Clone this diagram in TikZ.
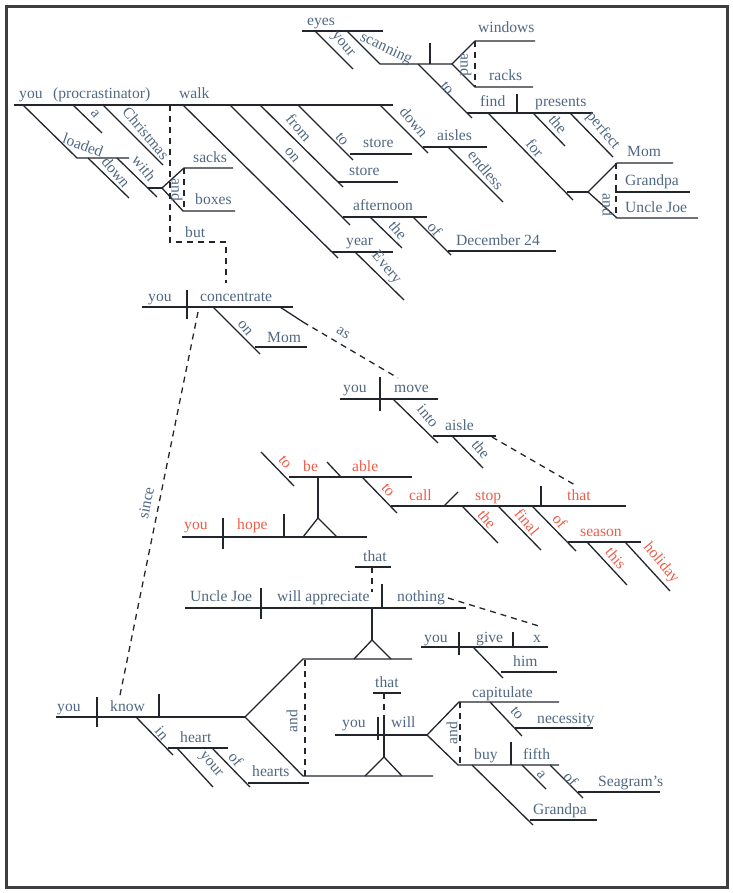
\documentclass[tikz,border=0pt]{standalone}
\usepackage{fontspec}
\setmainfont{Liberation Serif}
\definecolor{tb}{RGB}{80,104,130}
\definecolor{tr}{RGB}{238,92,72}
\definecolor{lnc}{RGB}{34,38,44}
\definecolor{frc}{RGB}{60,62,66}
\tikzset{
  wd/.style={text=tb, anchor=base west, inner sep=0pt, font=\fontsize{15.6}{18}\selectfont},
  rd/.style={wd, text=tr},
  dg/.style={text=tb, inner sep=0pt, font=\fontsize{15.6}{18}\selectfont, rotate=-50},
  rdg/.style={dg, text=tr},
  ln/.style={draw=lnc, line width=1.3pt},
  dsh/.style={ln, dash pattern=on 6pt off 5pt},
}
\begin{document}
\begin{tikzpicture}[x=1pt,y=-1pt]
\useasboundingbox (0,0) rectangle (732,893);
\draw[draw=frc, line width=3pt] (6,7) rectangle (727,887);

% ---------- main clause: you (procrastinator) walk
\draw[ln] (14,105) -- (393,105);
\node[wd] (you1) at (19,99) {you};
\node[wd] (procr) at (53,99) {(procrastinator)};
\node[wd] (walk) at (179,99) {walk};
\draw[ln] (23,105) -- (77,158) -- (129,158);
\node[text=tb, inner sep=0pt, font=\fontsize{15.6}{18}\selectfont, rotate=-20] (loaded) at (83,145) {loaded};
\draw[ln] (88,158) -- (129,198);
\node[dg] (down1) at (116,172) {down};
\draw[ln] (117,158) -- (157,197);
\node[dg] (with) at (144,168) {with};
\draw[ln] (148,188) -- (162,188);
\draw[ln] (233,168) -- (184,168) -- (162,188) -- (183,211) -- (235,211);
\draw[dsh] (184,168) -- (184,211);
\node[dg, rotate=-40] (and1) at (177,190) {and};
\node[wd] (sacks) at (193,163) {sacks};
\node[wd] (boxes) at (195,205) {boxes};
\draw[ln] (73,105) -- (102,133);
\node[dg] (a1) at (95,114) {a};
\draw[ln] (103,105) -- (163,165);
\node[dg] (christmas) at (146,133) {Christmas};
\draw[dsh] (170,105) -- (170,242) -- (226,242) -- (226,283);
\node[wd] (but) at (185,237) {but};

% walk modifiers
\draw[ln] (183,105) -- (338,258);
\draw[ln] (332,252) -- (393,252);
\node[wd] (year) at (346,245) {year};
\draw[ln] (355,252) -- (404,300);
\node[dg] (every) at (386,268) {Every};
\draw[ln] (230,105) -- (350,225);
\node[dg] (on1) at (292,155) {on};
\draw[ln] (343,217) -- (427,217);
\node[wd] (afternoon) at (353,211) {afternoon};
\draw[ln] (370,217) -- (402,248);
\node[dg] (the1) at (398,230) {the};
\draw[ln] (413,217) -- (451,255);
\node[dg] (of1) at (435,229) {of};
\draw[ln] (448,251) -- (556,251);
\node[wd] (dec) at (456,245) {December 24};
\draw[ln] (260,105) -- (343,187);
\node[dg] (from) at (299,128) {from};
\draw[ln] (338,182) -- (398,182);
\node[wd] (store1) at (349,176) {store};
\draw[ln] (298,105) -- (353,160);
\node[dg] (to1) at (342,139) {to};
\draw[ln] (350,154) -- (412,154);
\node[wd] (store2) at (363,148) {store};
\draw[ln] (380,105) -- (428,153);
\node[dg] (down2) at (414,122) {down};
\draw[ln] (423,147) -- (487,147);
\node[wd] (aisles) at (437,141) {aisles};
\draw[ln] (448,147) -- (503,202);
\node[dg] (endless) at (486,170) {endless};

% ---------- absolute phrase: your eyes scanning ...
\draw[ln] (302,31) -- (383,31);
\node[wd] (eyes) at (307,26) {eyes};
\draw[ln] (315,31) -- (353,69);
\node[dg] (your1) at (342,45) {your};
\draw[ln] (347,31) -- (380,64) -- (452,64);
\node[text=tb, inner sep=0pt, font=\fontsize{15.6}{18}\selectfont, rotate=-25] (scanning) at (386,49) {scanning};
\draw[ln] (430,43) -- (430,64);
\draw[ln] (535,41) -- (475,41) -- (452,64) -- (475,87) -- (533,87);
\draw[dsh] (475,41) -- (475,87);
\node[dg, rotate=-40] (and2) at (466,65) {and};
\node[wd] (windows) at (478,33) {windows};
\node[wd] (racks) at (489,81) {racks};
\draw[ln] (418,64) -- (472,118);
\node[dg] (to2) at (447,88) {to};
\draw[ln] (467,113) -- (593,113);
\draw[ln] (517,94) -- (517,113);
\node[wd] (find) at (480,107) {find};
\node[wd] (presents) at (535,107) {presents};
\draw[ln] (533,113) -- (565,146);
\node[dg] (the2) at (558,124) {the};
\draw[ln] (570,113) -- (613,157);
\node[dg] (perfect) at (603,131) {perfect};
\draw[ln] (488,113) -- (573,200);
\node[dg] (for) at (535,148) {for};
\draw[ln] (567,192) -- (588,192);
\draw[ln] (673,163) -- (617,163) -- (588,192) -- (617,218) -- (698,218);
\draw[ln] (615,192) -- (690,192);
\draw[dsh] (616,163) -- (616,218);
\node[dg, rotate=-40] (and3) at (608,205) {and};
\node[wd] (mom1) at (627,157) {Mom};
\node[wd] (grandpa1) at (625,186) {Grandpa};
\node[wd] (unclejoe1) at (625,213) {Uncle Joe};

% ---------- you concentrate
\draw[ln] (142,307) -- (293,307);
\draw[ln] (187,290) -- (187,319);
\node[wd] (you2) at (148,301) {you};
\node[wd] (concentrate) at (200,301) {concentrate};
\draw[ln] (213,307) -- (260,354);
\node[dg] (on2) at (245,328) {on};
\draw[ln] (255,347) -- (307,347);
\node[wd] (mom2) at (267,342) {Mom};
\draw[ln] (280,307) -- (303,322);
\draw[dsh] (303,322) -- (398,378);
\node[dg, rotate=19] (as) at (343,333) {as};

% ---------- you move
\draw[ln] (340,399) -- (438,399);
\draw[ln] (380,377) -- (380,411);
\node[wd] (you3) at (343,392) {you};
\node[wd] (move) at (394,392) {move};
\draw[ln] (393,399) -- (438,443);
\node[dg] (into) at (428,416) {into};
\draw[ln] (433,436) -- (496,436);
\node[wd] (aisle) at (445,430) {aisle};
\draw[ln] (452,436) -- (483,468);
\node[dg] (the3) at (481,449) {the};
\draw[dsh] (492,437) -- (575,485);

% ---------- red clause: you hope to be able to call stop ...
\draw[ln] (182,537) -- (367,537);
\draw[ln] (223,518) -- (223,549);
\draw[ln] (284,514) -- (284,537);
\node[rd] (you4) at (184,529) {you};
\node[rd] (hope) at (237,529) {hope};
\draw[ln] (303,537) -- (318,518) -- (337,537);
\draw[ln] (318,518) -- (318,477);
\draw[ln] (289,477) -- (412,477);
\draw[ln] (261,452) -- (294,486);
\node[rdg] (to3) at (285,462) {to};
\node[rd] (be) at (303,471) {be};
\draw[ln] (327,462) -- (341,477);
\node[rd] (able) at (352,471) {able};
\draw[ln] (362,477) -- (397,513);
\node[rdg] (to4) at (388,490) {to};
\draw[ln] (391,506) -- (626,506);
\draw[ln] (444,506) -- (458,492);
\node[rd] (call) at (409,500) {call};
\node[rd] (stop) at (475,500) {stop};
\draw[ln] (541,486) -- (541,506);
\node[rd] (that1) at (567,500) {that};
\draw[ln] (462,506) -- (498,543);
\node[rdg] (the4) at (487,519) {the};
\draw[ln] (498,506) -- (541,550);
\node[rdg] (final) at (527,522) {final};
\draw[ln] (532,506) -- (576,551);
\node[rdg] (of2) at (560,521) {of};
\draw[ln] (568,542) -- (641,542);
\node[rd] (season) at (580,536) {season};
\draw[ln] (587,542) -- (627,585);
\node[rdg] (this) at (616,558) {this};
\draw[ln] (625,542) -- (670,591);
\node[rdg] (holiday) at (661,563) {holiday};

% ---------- that Uncle Joe will appreciate nothing
\draw[ln] (355,567) -- (391,567);
\node[wd] (that2) at (363,561) {that};
\draw[dsh] (372,567) -- (372,592);
\draw[ln] (185,608) -- (466,608);
\draw[ln] (261,588) -- (261,619);
\draw[ln] (382,584) -- (382,608);
\node[wd] (unclejoe2) at (190,601) {Uncle Joe};
\node[wd] (appreciate) at (277,601) {will appreciate};
\node[wd] (nothing) at (397,601) {nothing};
\draw[ln] (372,608) -- (372,640);
\draw[ln] (354,659) -- (372,640) -- (391,659);
\draw[dsh] (448,598) -- (542,627);

% you give x him
\draw[ln] (421,647) -- (548,647);
\draw[ln] (459,632) -- (459,655);
\draw[ln] (513,632) -- (513,647);
\node[wd] (you5) at (424,642) {you};
\node[wd] (give) at (476,642) {give};
\node[wd] (x) at (533,642) {x};
\draw[ln] (473,647) -- (503,678);
\draw[ln] (501,672) -- (557,672);
\node[wd] (him) at (513,666) {him};

% ---------- you know
\draw[ln] (56,717) -- (245,717);
\draw[ln] (97,697) -- (97,727);
\draw[ln] (159,694) -- (159,717);
\node[wd] (you6) at (57,711) {you};
\node[wd] (know) at (110,711) {know};
\draw[dsh] (198,312) -- (119,700);
\node[text=tb, inner sep=0pt, font=\fontsize{15.6}{18}\selectfont, rotate=78.5] (since) at (146,503) {since};
\draw[ln] (412,659) -- (303,659) -- (245,717) -- (303,776) -- (433,776);
\draw[dsh] (305,660) -- (305,776);
\node[dg, rotate=140] (and4) at (292,721) {and};
\draw[ln] (136,717) -- (173,755);
\node[dg] (in) at (162,733) {in};
\draw[ln] (168,748) -- (228,748);
\node[wd] (heart) at (180,742) {heart};
\draw[ln] (177,748) -- (213,787);
\node[dg] (your2) at (210,765) {your};
\draw[ln] (212,748) -- (250,787);
\node[dg] (of3) at (236,759) {of};
\draw[ln] (248,783) -- (309,783);
\node[wd] (hearts) at (252,776) {hearts};

% ---------- that you will capitulate ... and buy ...
\draw[ln] (373,693) -- (401,693);
\node[wd] (that3) at (375,687) {that};
\draw[dsh] (384,693) -- (384,717);
\draw[ln] (384,717) -- (384,757);
\draw[ln] (335,735) -- (427,735);
\draw[ln] (378,717) -- (378,740);
\draw[ln] (365,776) -- (384,757) -- (402,776);
\node[wd] (you7) at (342,727) {you};
\node[wd] (will) at (391,727) {will};
\draw[ln] (559,702) -- (459,702) -- (427,735) -- (458,765) -- (559,765);
\draw[dsh] (460,702) -- (460,765);
\node[dg, rotate=140] (and5) at (452,733) {and};
\node[wd] (capitulate) at (472,697) {capitulate};
\draw[ln] (490,702) -- (522,736);
\node[dg] (to5) at (517,713) {to};
\draw[ln] (515,728) -- (593,728);
\node[wd] (necessity) at (537,723) {necessity};
\draw[ln] (511,742) -- (511,765);
\node[wd] (buy) at (474,759) {buy};
\node[wd] (fifth) at (523,759) {fifth};
\draw[ln] (522,765) -- (546,789);
\node[dg] (a2) at (541,775) {a};
\draw[ln] (550,765) -- (583,798);
\node[dg] (of4) at (571,779) {of};
\draw[ln] (578,792) -- (660,792);
\node[wd] (seagram) at (598,786) {Seagram’s};
\draw[ln] (472,765) -- (533,825);
\draw[ln] (530,820) -- (597,820);
\node[wd] (grandpa2) at (533,814) {Grandpa};
\end{tikzpicture}
\end{document}
